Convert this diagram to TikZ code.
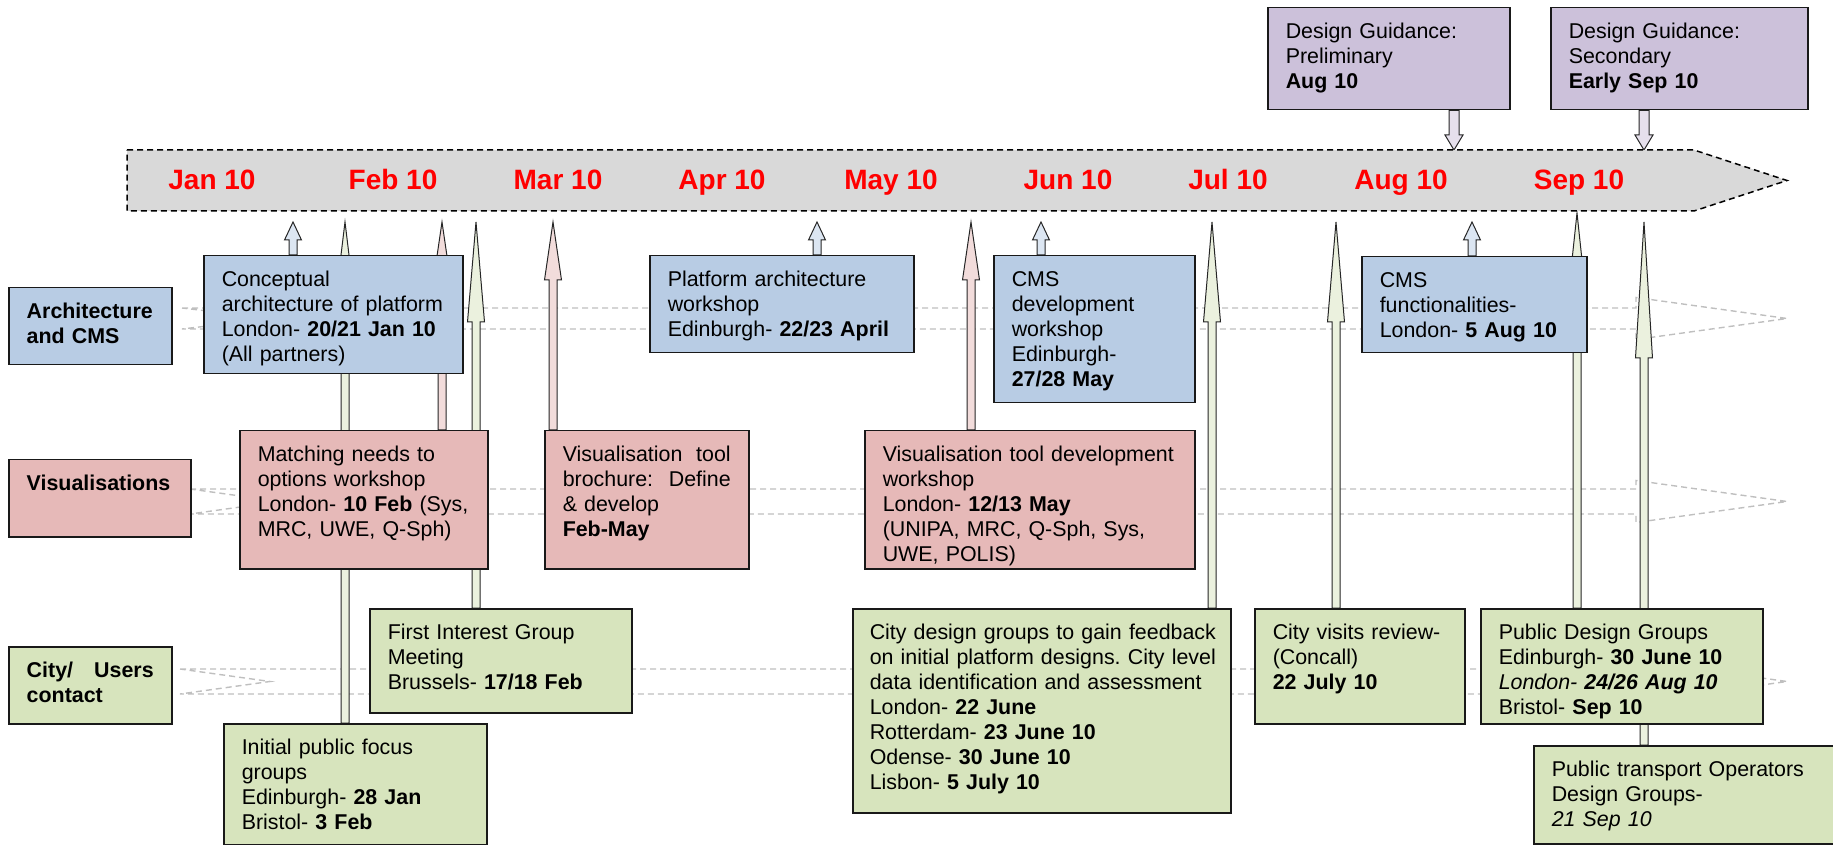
\documentclass[tikz,border=0pt]{standalone}
\usepackage{fontspec}
\setmainfont{Liberation Sans}
\usetikzlibrary{calc, backgrounds}
\frenchspacing

\definecolor{archblue}{HTML}{B8CCE4}
\definecolor{vispink}{HTML}{E6B9B8}
\definecolor{citygreen}{HTML}{D7E4BD}
\definecolor{guidepurple}{HTML}{CCC1DA}
\definecolor{bandgrey}{HTML}{D9D9D9}
\definecolor{lanegrey}{HTML}{BFBFBF}
\definecolor{monthred}{HTML}{FF0000}
\definecolor{arrblue}{HTML}{DCE6F2}
\definecolor{arrpink}{HTML}{F2DCDB}
\definecolor{arrgreen}{HTML}{EBF1DE}
\definecolor{arrpurple}{HTML}{E6E0EC}

\newcommand{\evfont}{\fontsize{10.7}{12.5}\selectfont}
\newcommand{\monthfont}{\fontsize{14}{16}\selectfont\bfseries}

% block arrow from the top of a box up to the time line
\newcommand{\tlarrow}[5]{%
  \filldraw[arrline, fill=#1] (#2,0 |- #4) -- ++(8.5,#5) -- ++(-4.5,0)
    -- (#2+4,0 |- #3.north) -- (#2-4,0 |- #3.north)
    -- ($(#2,0 |- #4)+(-4,#5)$) -- ++(-4.5,0) -- cycle;}
% block arrow from a guidance box down to the time line
\newcommand{\dgarrow}[3]{%
  \filldraw[arrline, fill=arrpurple] (#1,0 |- #3) -- ++(9,-15) -- ++(-4,0)
    -- (#1+5,0 |- #2.south) -- (#1-5,0 |- #2.south)
    -- ($(#1,0 |- #3)+(-5,-15)$) -- ++(-4,0) -- cycle;}

\begin{document}
\begin{tikzpicture}[x=0.5pt, y=-0.5pt]
\tikzset{evbox/.style={draw=black!90, line width=0.75pt, anchor=north west, align=left,
           inner xsep=9pt, inner ysep=7.5pt, text height=7.7pt, font=\evfont},
         archbox/.style={evbox, fill=archblue},
         visbox/.style={evbox, fill=vispink},
         citybox/.style={evbox, fill=citygreen},
         guidebox/.style={evbox, fill=guidepurple},
         lanelab/.style={font=\evfont\bfseries},
         month/.style={text=monthred, font=\monthfont, inner sep=0pt, text height=10pt, text depth=0pt},
         arrline/.style={draw=black!85, line width=0.5pt},
         lanestyle/.style={draw=lanegrey, line width=0.7pt, dash pattern=on 3pt off 2pt}}
\useasboundingbox (0,0) rectangle (1833,845);

% time line
\draw[fill=bandgrey, line width=0.75pt, dash pattern=on 3pt off 2pt]
  (127,150) -- (1694,150) -- (1787,180.5) -- (1694,211) -- (127,211) -- cycle;
\foreach \mx/\mname in {212/Jan, 393/Feb, 558/Mar, 722/Apr, 891/May, 1068/Jun, 1228/Jul, 1401/Aug, 1579/Sep}
  \node[month] (m\mname) at (\mx,180) {\mname\ 10};
\coordinate (bandtop) at (0,150);
\coordinate (bandbot) at (0,213);
\coordinate (tipline) at (0,222);

% lane labels
\node[archbox, lanelab, text width=63.5pt, text depth=15.8pt] (archlab) at (8,287) {Architecture\\and CMS};
\node[visbox, lanelab, text width=73pt, text depth=15.8pt] (vislab) at (8,459) {Visualisations};
\node[citybox, lanelab, text width=63.5pt, text depth=15.8pt] (citylab) at (8,646) {City/\hfill Users\\contact};

% guidance
\node[guidebox, text width=103pt, text depth=28.3pt] (guid1) at (1267,7)
  {Design Guidance:\\Preliminary\\\textbf{Aug 10}};
\node[guidebox, text width=110.5pt, text depth=28.3pt] (guid2) at (1550,7)
  {Design Guidance:\\Secondary\\\textbf{Early Sep 10}};

% architecture and CMS
\node[archbox, text width=111.5pt, text depth=36.3pt] (concept) at (203,255)
  {Conceptual\\\mbox{architecture of platform}\\London- \textbf{20/21 Jan 10}\\(All partners)};
\node[archbox, text width=114pt, text depth=25.8pt] (platform) at (649,255)
  {Platform architecture\\workshop\\Edinburgh- \textbf{22/23 April}};
\node[archbox, text width=82.5pt, text depth=50.8pt] (cmsdev) at (993,255)
  {CMS\\development\\workshop\\Edinburgh-\\\textbf{27/28 May}};
\node[archbox, text width=94.5pt, text depth=25.3pt] (cmsfunc) at (1361,256)
  {CMS\\functionalities-\\London- \textbf{5 Aug 10}};

% visualisations
\node[visbox, text width=106pt, text depth=46.3pt] (matching) at (239,430)
  {Matching needs to\\options workshop\\\mbox{London- \textbf{10 Feb} (Sys,}\\MRC, UWE, Q-Sph)};
\node[visbox, text width=84pt, text depth=46.3pt] (brochure) at (544,430)
  {Visualisation\hfill tool\\brochure:\hfill Define\\\& develop\\\textbf{Feb-May}};
\node[visbox, text width=147pt, text depth=46.3pt] (visdev) at (864,430)
  {\mbox{Visualisation tool development}\\workshop\\London- \textbf{12/13 May}\\(UNIPA, MRC, Q-Sph, Sys,\\UWE, POLIS)};

% city / users contact
\node[citybox, text width=113pt, text depth=29.3pt] (firstint) at (369,608)
  {First Interest Group\\Meeting\\Brussels- \textbf{17/18 Feb}};
\node[citybox, text width=113.5pt, text depth=37.8pt] (initial) at (223,723)
  {Initial public focus\\groups\\Edinburgh- \textbf{28 Jan}\\Bristol- \textbf{3 Feb}};
\node[citybox, text width=172pt, inner xsep=8.5pt, text depth=79.3pt] (citydesign) at (852,608)
  {\mbox{City design groups to gain feedback}\\\mbox{on initial platform designs. City level}\\
   \mbox{data identification and assessment}\\London- \textbf{22 June}\\Rotterdam- \textbf{23 June 10}\\
   Odense- \textbf{30 June 10}\\Lisbon- \textbf{5 July 10}};
\node[citybox, text width=87pt, text depth=34.8pt] (cityvisits) at (1254,608)
  {City visits review-\\(Concall)\\\textbf{22 July 10}};
\node[citybox, text width=123pt, text depth=34.8pt] (pubdesign) at (1480,608)
  {Public Design Groups\\Edinburgh- \textbf{30 June 10}\\\textit{London- \textbf{24/26 Aug 10}}\\Bristol- \textbf{Sep 10}};
\node[citybox, text width=135.5pt, text depth=26.3pt] (pubtrans) at (1533,745)
  {Public transport Operators\\Design Groups-\\\textit{21 Sep 10}};

\begin{pgfonlayer}{background}
% swim lanes
\foreach \lx/\ly/\lh in {182/318.5/10.5, 190/501.5/12.5, 180/681.5/12.5}
  \draw[lanestyle] (\lx,\ly-\lh) -- (1636,\ly-\lh) -- (1636,\ly-21) -- (1787,\ly)
    -- (1636,\ly+21) -- (1636,\ly+\lh) -- (\lx,\ly+\lh) -- (\lx+90,\ly) -- cycle;
% arrows to the time line
\tlarrow{arrblue}{293}{concept}{tipline}{18}
\tlarrow{arrblue}{817}{platform}{tipline}{18}
\tlarrow{arrblue}{1041}{cmsdev}{tipline}{18}
\tlarrow{arrblue}{1472}{cmsfunc}{tipline}{18}
\tlarrow{arrgreen}{345}{initial}{tipline}{70}
\tlarrow{arrpink}{442}{matching}{tipline}{58}
\tlarrow{arrgreen}{476}{firstint}{tipline}{100}
\tlarrow{arrpink}{553}{brochure}{tipline}{58}
\tlarrow{arrpink}{971}{visdev}{tipline}{58}
\tlarrow{arrgreen}{1212}{citydesign}{tipline}{100}
\tlarrow{arrgreen}{1336}{cityvisits}{tipline}{100}
\tlarrow{arrgreen}{1577}{pubdesign}{bandbot}{80}
\tlarrow{arrgreen}{1644}{pubtrans}{tipline}{136}
\dgarrow{1454}{guid1}{bandtop}
\dgarrow{1644}{guid2}{bandtop}
\end{pgfonlayer}
\end{tikzpicture}
\end{document}
